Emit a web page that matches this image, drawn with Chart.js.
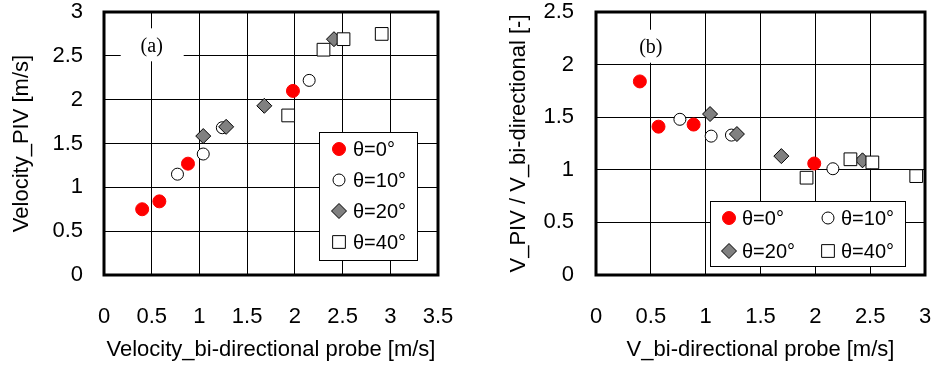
<!DOCTYPE html>
<html>
<head>
<meta charset="utf-8">
<script src="https://cdn.jsdelivr.net/npm/chart.js@4/dist/chart.umd.min.js"></script>
<style>
  html, body { margin: 0; padding: 0; background: #fff; }
  #wrap { position: relative; width: 935px; height: 376px; }
  .panel { position: absolute; top: 0; height: 376px; }
  #panelA { left: 0; width: 470px; }
  #panelB { left: 470px; width: 465px; }
</style>
</head>
<body>
<div id="wrap">
  <div class="panel" id="panelA"><canvas id="chartA" width="470" height="376"></canvas></div>
  <div class="panel" id="panelB"><canvas id="chartB" width="465" height="376"></canvas></div>
</div>
<script>
// ─── DATA ────────────────────────────────────────────────────────────────
var seriesLabels = ['θ=0°', 'θ=10°', 'θ=20°', 'θ=40°'];

// (a) velocity from PIV vs bi-directional probe
var velX0  = [0.40, 0.58, 0.88, 1.98];
var velY0  = [0.75, 0.84, 1.27, 2.10];
var velX10 = [0.77, 1.04, 1.24, 2.15];
var velY10 = [1.15, 1.38, 1.68, 2.22];
var velX20 = [1.04, 1.28, 1.68, 2.41];
var velY20 = [1.585, 1.69, 1.93, 2.69];
var velX40 = [1.93, 2.30, 2.51, 2.91];
var velY40 = [1.82, 2.57, 2.69, 2.75];

// (b) ratio V_PIV / V_bi-directional
var ratioX0  = [0.40, 0.57, 0.89, 1.99];
var ratioY0  = [1.84, 1.41, 1.43, 1.06];
var ratioX10 = [0.765, 1.05, 1.235, 2.16];
var ratioY10 = [1.48, 1.32, 1.33, 1.01];
var ratioX20 = [1.04, 1.285, 1.69, 2.43];
var ratioY20 = [1.53, 1.34, 1.13, 1.09];
var ratioX40 = [1.92, 2.32, 2.52, 2.92];
var ratioY40 = [0.925, 1.10, 1.07, 0.94];

var axisA = { xMax: 3.5, yMax: 3, step: 0.5 };
var axisB = { xMax: 3, yMax: 2.5, step: 0.5 };

var panelLabelA = { text: '(a)', at: [0.5, 2.62] };
var panelLabelB = { text: '(b)', at: [0.5, 2.17] };

// ─── STYLES ──────────────────────────────────────────────────────────────
var SANS = '"Liberation Sans", Arial, sans-serif';
var markerStyles = [
  { pointStyle: 'circle',  radius: 6.5, bg: '#ff0000', border: '#ff0000' },
  { pointStyle: 'circle',  radius: 6,   bg: '#ffffff', border: '#000000' },
  { pointStyle: 'rectRot', radius: 7.5, bg: '#808080', border: '#000000' },
  { pointStyle: 'rect',    radius: 9,   bg: '#ffffff', border: '#000000' }
];

function toPoints(xs, ys) {
  return xs.map(function(x, i) { return { x: x, y: ys[i] }; });
}

function buildDatasets(pairs) {
  return pairs.map(function(p, i) {
    var s = markerStyles[i];
    return {
      label: seriesLabels[i],
      data: toPoints(p[0], p[1]),
      pointStyle: s.pointStyle,
      pointRadius: s.radius,
      pointBackgroundColor: s.bg,
      pointBorderColor: s.border,
      pointBorderWidth: 1,
      showLine: false,
      order: pairs.length - i   // later series on top
    };
  });
}

function fmtTick(v) { return String(+v.toFixed(2)); }

// simple marker painter, used by the inside-plot legend
function drawMarker(ctx, s, x, y) {
  ctx.save();
  ctx.fillStyle = s.bg;
  ctx.strokeStyle = s.border;
  ctx.lineWidth = 1;
  ctx.beginPath();
  if (s.pointStyle === 'circle') {
    ctx.arc(x, y, s.radius, 0, Math.PI * 2);
  } else if (s.pointStyle === 'rectRot') {
    ctx.moveTo(x, y - s.radius); ctx.lineTo(x + s.radius, y);
    ctx.lineTo(x, y + s.radius); ctx.lineTo(x - s.radius, y);
    ctx.closePath();
  } else {
    var h = s.radius * Math.SQRT1_2;
    ctx.rect(x - h, y - h, 2 * h, 2 * h);
  }
  ctx.fill();
  ctx.stroke();
  ctx.restore();
}

// frame, panel label, and boxed legend
var panelDecor = {
  id: 'panelDecor',
  beforeDatasetsDraw: function(chart, args, o) {
    var ctx = chart.ctx, a = chart.chartArea;
    var cx = chart.scales.x.getPixelForValue(o.label.at[0]);
    var cy = chart.scales.y.getPixelForValue(o.label.at[1]);
    ctx.save();
    ctx.fillStyle = '#fff';
    ctx.fillRect(cx - 31, cy - 17, 63, 33);
    ctx.fillStyle = '#000';
    ctx.font = '20px "Liberation Serif", "Times New Roman", serif';
    ctx.textAlign = 'center';
    ctx.textBaseline = 'middle';
    ctx.fillText(o.label.text, cx, cy + 1);
    ctx.lineWidth = 3;
    ctx.strokeStyle = '#000';
    ctx.strokeRect(a.left, a.top, a.right - a.left, a.bottom - a.top);
    ctx.restore();
  },
  afterDatasetsDraw: function(chart, args, o) {
    var ctx = chart.ctx, a = chart.chartArea, L = o.legend;
    var left = a.right - L.rightGap - L.w;
    var top = a.bottom - L.bottomGap - L.h;
    ctx.save();
    ctx.fillStyle = '#fff';
    ctx.fillRect(left, top, L.w, L.h);
    ctx.strokeStyle = '#000';
    ctx.lineWidth = 1;
    ctx.strokeRect(left + 0.5, top + 0.5, L.w, L.h);
    ctx.font = L.fontSize + 'px ' + SANS;
    ctx.textBaseline = 'middle';
    ctx.textAlign = 'left';
    chart.data.datasets.forEach(function(ds, i) {
      var col = i % L.cols, row = Math.floor(i / L.cols);
      var y = top + L.rowTop + row * L.rowStep;
      var x = left + L.colLeft + col * L.colStep;
      drawMarker(ctx, markerStyles[i], x, y);
      ctx.fillStyle = '#000';
      ctx.fillText(ds.label, x + L.textGap, y + 1);
    });
    ctx.restore();
  }
};

function makeChart(id, datasets, ax, cfg) {
  return new Chart(document.getElementById(id), {
    type: 'scatter',
    data: { datasets: datasets },
    plugins: [panelDecor],
    options: {
      responsive: false,
      animation: false,
      devicePixelRatio: 1,
      layout: { padding: { left: cfg.padLeft, right: cfg.padRight, top: 12, bottom: 0 } },
      plugins: {
        legend: { display: false },
        tooltip: { enabled: false },
        panelDecor: { label: cfg.label, legend: cfg.legend }
      },
      scales: {
        x: {
          type: 'linear', min: 0, max: ax.xMax,
          // fixed axis band; drop the label overhang padding so the plot keeps its width
          afterFit: function(s) { s.height = 101; s.paddingLeft = 0; s.paddingRight = 0; },
          grid: { color: '#000', lineWidth: 1, drawTicks: false },
          border: { display: false },
          ticks: { stepSize: ax.step, padding: cfg.xTickPad, color: '#000', font: { family: SANS, size: 22 }, callback: fmtTick },
          title: { display: true, text: cfg.xTitle, color: '#000', padding: { top: 0, bottom: 13 }, font: { family: SANS, size: 22 } }
        },
        y: {
          type: 'linear', min: 0, max: ax.yMax,
          afterFit: function(s) { s.width = cfg.yWidth; s.paddingTop = 0; s.paddingBottom = 0; },
          grid: { color: '#000', lineWidth: 1, drawTicks: false },
          border: { display: false },
          ticks: { stepSize: ax.step, padding: cfg.yTickPad, color: '#000', font: { family: SANS, size: 22 }, callback: fmtTick },
          title: { display: true, text: cfg.yTitle, color: '#000', padding: { top: 0, bottom: 0 }, font: { family: SANS, size: 22 } }
        }
      }
    }
  });
}

makeChart('chartA',
  buildDatasets([[velX0, velY0], [velX10, velY10], [velX20, velY20], [velX40, velY40]]),
  axisA,
  {
    padLeft: 9, padRight: 32, yWidth: 95, xTickPad: 29, yTickPad: 21,
    xTitle: 'Velocity_bi-directional probe [m/s]',
    yTitle: 'Velocity_PIV [m/s]',
    label: panelLabelA,
    legend: { w: 98, h: 128, rightGap: 21, bottomGap: 15, cols: 1, colStep: 0, rowTop: 17, rowStep: 31, colLeft: 20, textGap: 14, fontSize: 20 }
  });

makeChart('chartB',
  buildDatasets([[ratioX0, ratioY0], [ratioX10, ratioY10], [ratioX20, ratioY20], [ratioX40, ratioY40]]),
  axisB,
  {
    padLeft: 36, padRight: 7, yWidth: 90, xTickPad: 29, yTickPad: 22,
    xTitle: 'V_bi-directional probe [m/s]',
    yTitle: 'V_PIV / V_bi-directional [-]',
    label: panelLabelB,
    legend: { w: 195, h: 65, rightGap: 20, bottomGap: 9, cols: 2, colStep: 99, rowTop: 17, rowStep: 33, colLeft: 19, textGap: 13, fontSize: 20 }
  });
</script>
</body>
</html>
